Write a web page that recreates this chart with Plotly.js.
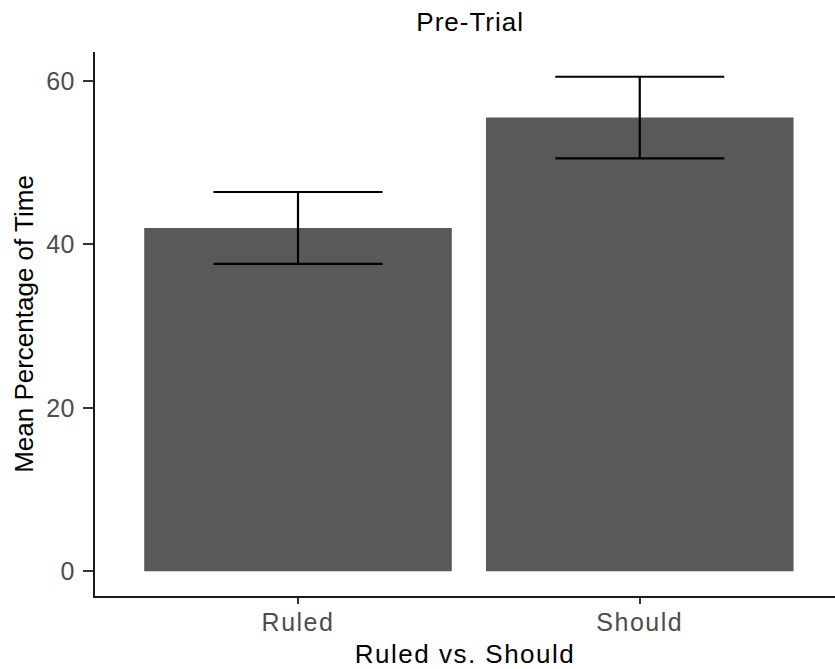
<!DOCTYPE html>
<html>
<head>
<meta charset="utf-8">
<script src="https://cdn.plot.ly/plotly-3.0.1.min.js"></script>
<style>
  html, body { margin: 0; padding: 0; background: #ffffff; overflow: hidden; }
  #chart { width: 835px; height: 669px; }
  /* slightly looser letter spacing for the horizontal labels */
  .xtick text { letter-spacing: 1.5px; }
  .ytick text { letter-spacing: 0.5px; }
  .g-xtitle text { letter-spacing: 1.5px; }
  .g-gtitle text { letter-spacing: 1px; }
</style>
</head>
<body>
<div id="chart"></div>
<script>
// Pre-trial condition means with their error margins
const categories = ["Ruled", "Should"];
const meanPercent = [42.0, 55.5];
const errorMargin = [4.4, 5.0];
const yTickValues = [0, 20, 40, 60];
const yTickLabels = ["0", "20", "40", "60"];

const FONT = '"Liberation Sans", Arial, "DejaVu Sans", sans-serif';

// y range padded by 5% of the data span (bar base to highest error bar top)
const yMax = Math.max(...meanPercent.map((m, i) => m + errorMargin[i]));
const yPad = yMax * 0.05;

const bars = {
  type: "bar",
  x: categories,
  y: meanPercent,
  width: 0.9,
  marker: { color: "#595959", line: { width: 0 } },
  error_y: {
    type: "data",
    array: errorMargin,
    visible: true,
    color: "#000000",
    thickness: 2.2,
    width: 84.5
  },
  hoverinfo: "x+y"
};

const layout = {
  width: 835,
  height: 669,
  margin: { l: 95, r: 0, t: 52, b: 73 },
  paper_bgcolor: "#ffffff",
  plot_bgcolor: "#ffffff",
  showlegend: false,
  bargap: 0.1,
  font: { family: FONT, color: "#000000" },
  title: {
    text: "Pre-Trial",
    font: { family: FONT, size: 26, color: "#000000" },
    xref: "paper",
    x: 0.507,
    xanchor: "center",
    yref: "container",
    y: 0.967,
    yanchor: "middle"
  },
  xaxis: {
    type: "category",
    range: [-0.594, 1.5713],
    showgrid: false,
    zeroline: false,
    showline: true,
    linecolor: "#1a1a1a",
    linewidth: 2,
    ticks: "outside",
    ticklen: 6,
    tickwidth: 2,
    tickcolor: "#333333",
    tickfont: { family: FONT, size: 25, color: "#4D4D4D" },
    ticklabelstandoff: -3,
    title: {
      text: "Ruled vs. Should",
      font: { family: FONT, size: 26, color: "#000000" },
      standoff: 10
    },
    automargin: false,
    fixedrange: true
  },
  yaxis: {
    range: [-yPad, yMax + yPad],
    tickvals: yTickValues,
    ticktext: yTickLabels,
    showgrid: false,
    zeroline: false,
    showline: true,
    linecolor: "#1a1a1a",
    linewidth: 2,
    ticks: "outside",
    ticklen: 10,
    tickwidth: 2,
    tickcolor: "#333333",
    tickfont: { family: FONT, size: 25, color: "#4D4D4D" },
    ticklabelstandoff: 3,
    title: {
      text: "Mean Percentage of Time",
      font: { family: FONT, size: 26, color: "#000000" },
      standoff: 5
    },
    automargin: false,
    fixedrange: true
  }
};

Plotly.newPlot("chart", [bars], layout, { displayModeBar: false, staticPlot: true });
</script>
</body>
</html>
